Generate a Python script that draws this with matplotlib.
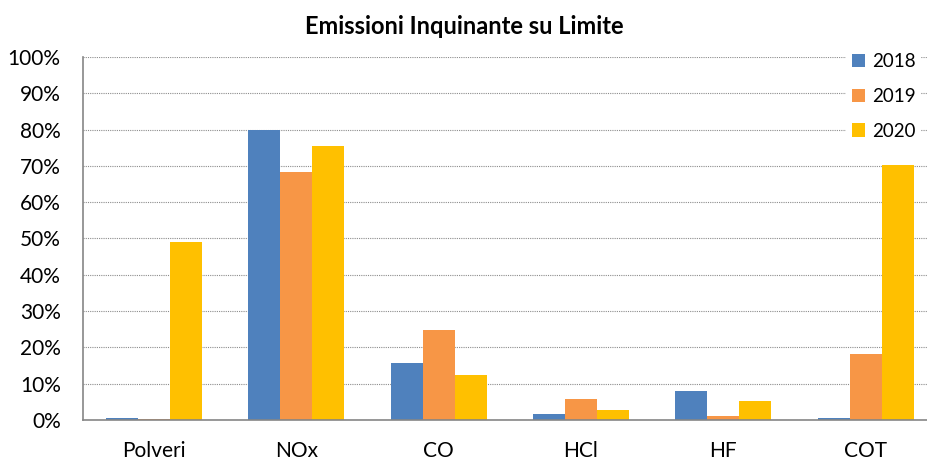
import numpy as np
import matplotlib.pyplot as plt
from matplotlib.ticker import PercentFormatter

plt.rcParams['font.family'] = ['Lato', 'DejaVu Sans']

# Data (percent of limit)
categories = ['Polveri', 'NOx', 'CO', 'HCl', 'HF', 'COT']
years = ['2018', '2019', '2020']
v2018 = [0.5, 80.0, 15.6, 1.6, 8.0, 0.6]
v2019 = [0.4, 68.2, 24.8, 5.7, 1.2, 18.1]
v2020 = [49.0, 75.5, 12.3, 2.7, 5.2, 70.2]
colors = ['#4F81BD', '#F79646', '#FFC000']

fig = plt.figure(figsize=(9.28, 4.59), dpi=100)
ax = fig.add_axes([0.0894, 0.085, 0.920, 0.791])

x = np.arange(len(categories))
w = 0.225
for i, (vals, lab, c) in enumerate(zip([v2018, v2019, v2020], years, colors)):
    ax.bar(x + (i - 1) * w, vals, w, color=c, label=lab, zorder=3)

ax.set_xlim(-0.5, len(categories) - 0.5)
ax.set_ylim(0, 100)
ax.set_yticks(np.arange(0, 101, 10))
ax.yaxis.set_major_formatter(PercentFormatter(decimals=0))
ax.set_xticks(x)
ax.set_xticklabels(categories)
ax.tick_params(axis='both', labelsize=15, colors='#000000', length=0)
ax.tick_params(axis='y', pad=16)
ax.tick_params(axis='x', pad=15)
ax.grid(axis='y', color='#8c8c8c', linestyle=(0, (1, 1)), linewidth=0.8, zorder=0)
for s in ['top', 'right']:
    ax.spines[s].set_visible(False)
for s in ['left', 'bottom']:
    ax.spines[s].set_color('#868686')
    ax.spines[s].set_linewidth(1.2)
    ax.spines[s].set_zorder(4)

fig.text(0.5, 0.943, 'Emissioni Inquinante su Limite', ha='center', va='center',
         fontsize=17, fontweight='bold')

leg = ax.legend(loc='upper left', bbox_to_anchor=(0.912, 0.897), bbox_transform=fig.transFigure,
                frameon=True, fontsize=13.5, handlelength=0.7, handleheight=0.7,
                handletextpad=0.35, labelspacing=0.95, borderpad=0.3, borderaxespad=0)
leg.get_frame().set_edgecolor('none')
leg.get_frame().set_facecolor('white')
leg.get_frame().set_alpha(1)

fig.savefig('out.png', dpi=100)
